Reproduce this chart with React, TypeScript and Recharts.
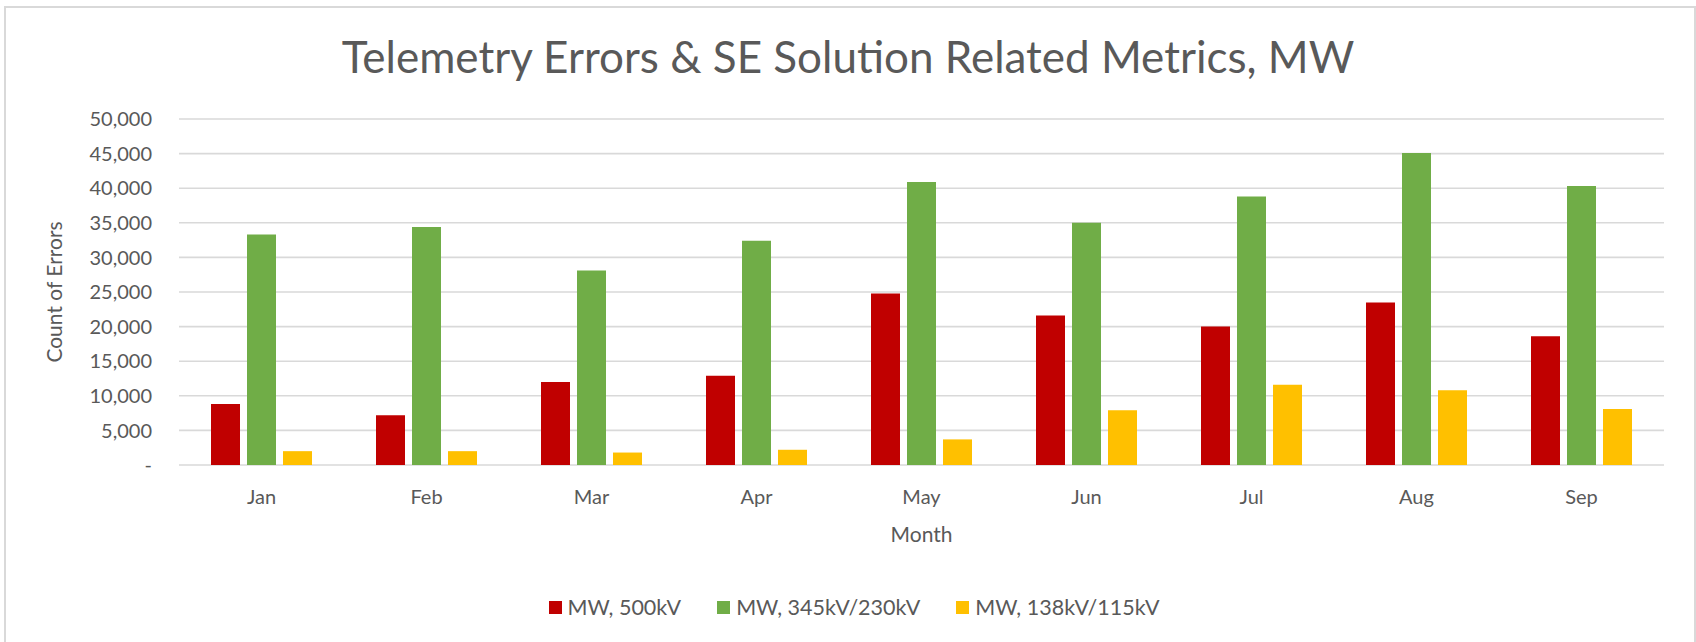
import { BarChart, Bar, XAxis, YAxis, CartesianGrid } from "recharts";

const months = ["Jan", "Feb", "Mar", "Apr", "May", "Jun", "Jul", "Aug", "Sep"];
const mw500 = [8800, 7200, 12000, 12900, 24800, 21600, 20000, 23500, 18600];
const mw345 = [33300, 34400, 28100, 32400, 40900, 35000, 38800, 45100, 40300];
const mw138 = [2000, 2000, 1800, 2200, 3700, 7900, 11600, 10800, 8100];
const yTicks = [0, 5000, 10000, 15000, 20000, 25000, 30000, 35000, 40000, 45000, 50000];

const SERIES = [
  { key: "mw500", name: "MW, 500kV", color: "#C00000" },
  { key: "mw345", name: "MW, 345kV/230kV", color: "#70AD47" },
  { key: "mw138", name: "MW, 138kV/115kV", color: "#FFC000" },
];

const FONT = "Lato, 'Open Sans', sans-serif";
const TEXT = "#595959";

const data = months.map((m, i) => ({
  month: m,
  mw500: mw500[i],
  mw345: mw345[i],
  mw138: mw138[i],
}));

const fmt = (v: number) => (v === 0 ? "-" : v.toLocaleString("en-US"));

// legend drawn as plain html so it doesn't eat into the plot area
function LegendRow() {
  return (
    <div
      style={{
        position: "absolute",
        left: 6,
        top: 595,
        width: 1696,
        display: "flex",
        justifyContent: "center",
        gap: 36,
        fontFamily: FONT,
        fontSize: 21.5,
        lineHeight: "24px",
        color: TEXT,
      }}
    >
      {SERIES.map((s) => (
        <div key={s.key} style={{ display: "flex", alignItems: "center", gap: 6 }}>
          <span style={{ width: 13, height: 13, background: s.color, display: "inline-block" }} />
          <span>{s.name}</span>
        </div>
      ))}
    </div>
  );
}

export default function App() {
  return (
    <div style={{ position: "absolute", left: 0, top: 0, width: 1696, height: 642, background: "#fff", overflow: "hidden" }}>
      <div
        style={{
          position: "absolute",
          left: 4,
          top: 6,
          width: 1688,
          height: 660,
          border: "2px solid #D9D9D9",
        }}
      />
      <div
        style={{
          position: "absolute",
          left: 0,
          top: 35,
          width: 1696,
          textAlign: "center",
          fontFamily: FONT,
          fontSize: 44,
          lineHeight: "43px",
          color: TEXT,
        }}
      >
        Telemetry Errors &amp; SE Solution Related Metrics, MW
      </div>
      <BarChart
        width={1696}
        height={642}
        data={data}
        margin={{ top: 119, right: 32, bottom: 147, left: 0 }}
        barGap={7}
        barSize={29}
        style={{ position: "absolute", left: 0, top: 0 }}
      >
        <CartesianGrid vertical={false} stroke="#D9D9D9" strokeWidth={1.6} />
        <XAxis
          dataKey="month"
          height={30}
          axisLine={false}
          tickLine={false}
          tickMargin={19}
          tick={{ fill: TEXT, fontSize: 20, fontFamily: FONT }}
          label={{
            content: (props: any) => {
              const vb = props.viewBox || {};
              return (
                <text
                  x={vb.x + vb.width / 2}
                  y={542}
                  textAnchor="middle"
                  fill={TEXT}
                  fontSize={21}
                  fontFamily={FONT}
                >
                  Month
                </text>
              );
            },
          }}
        />
        <YAxis
          width={179}
          domain={[0, 50000]}
          ticks={yTicks}
          interval={0}
          axisLine={false}
          tickLine={false}
          tickMargin={21}
          tickFormatter={fmt}
          tick={{ fill: TEXT, fontSize: 20, fontFamily: FONT }}
          label={{
            content: (props: any) => {
              const vb = props.viewBox || {};
              const cy = vb.y + vb.height / 2;
              return (
                <text
                  x={62}
                  y={cy}
                  transform={`rotate(-90 62 ${cy})`}
                  textAnchor="middle"
                  fill={TEXT}
                  fontSize={21}
                  fontFamily={FONT}
                >
                  Count of Errors
                </text>
              );
            },
          }}
        />
        {SERIES.map((s) => (
          <Bar key={s.key} dataKey={s.key} name={s.name} fill={s.color} isAnimationActive={false} />
        ))}
      </BarChart>
      <LegendRow />
    </div>
  );
}
